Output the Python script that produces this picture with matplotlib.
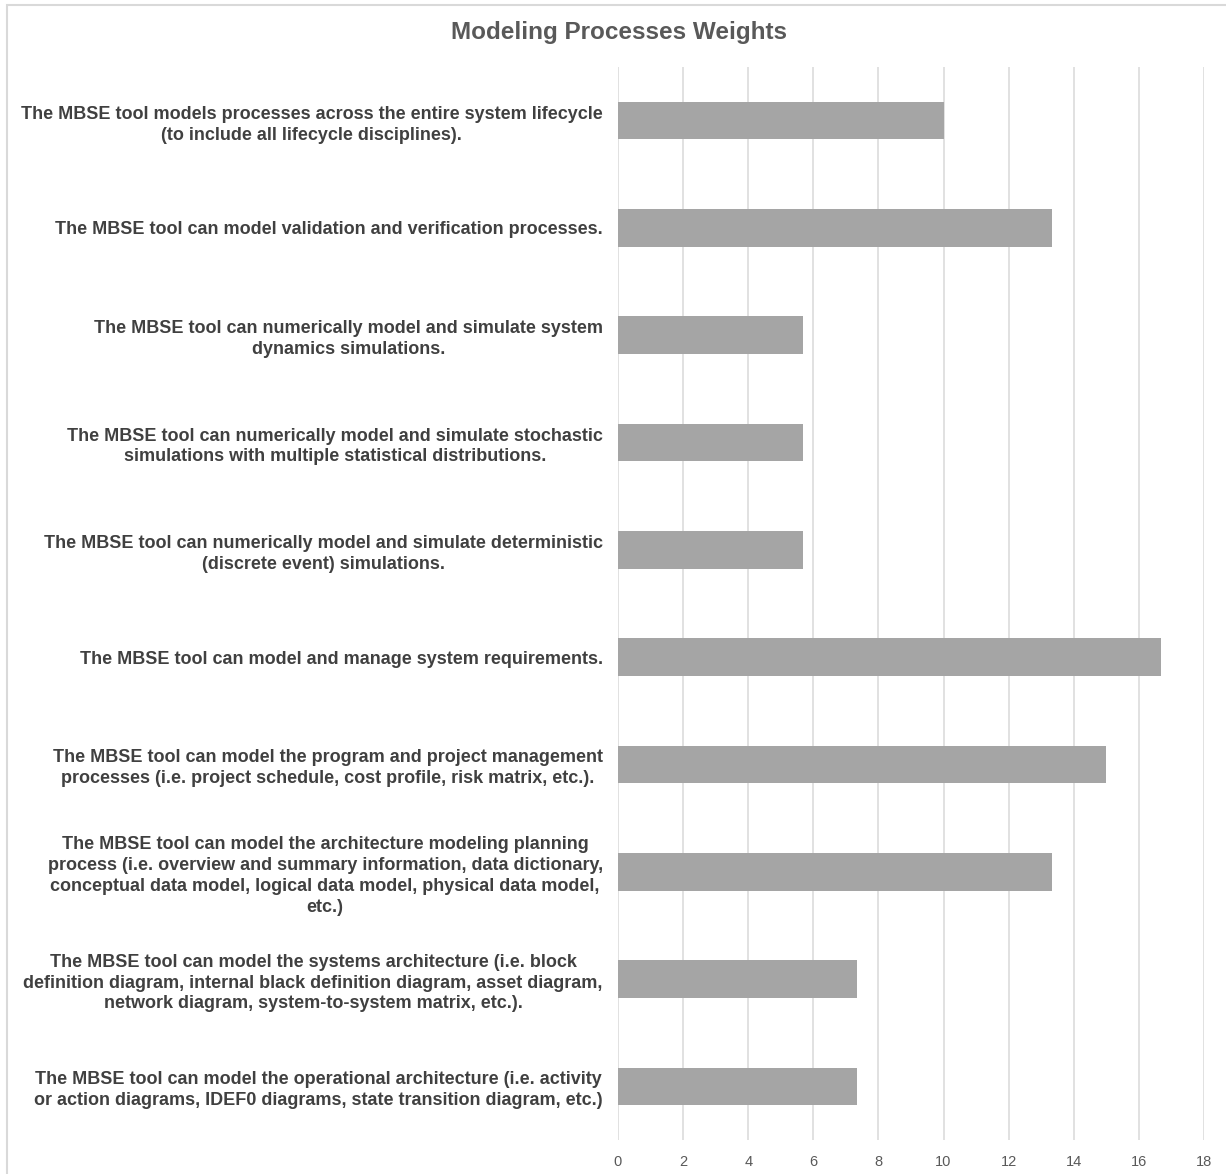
import matplotlib.pyplot as plt
from matplotlib.patches import Rectangle

plt.rcParams['font.family'] = ['Liberation Sans', 'DejaVu Sans']

# Chart data (top to bottom as shown)
labels = [
	'The MBSE tool models processes across the entire system lifecycle\n(to include all lifecycle disciplines).',
	'The MBSE tool can model validation and verification processes.',
	'The MBSE tool can numerically model and simulate system\ndynamics simulations.',
	'The MBSE tool can numerically model and simulate stochastic\nsimulations with multiple statistical distributions.',
	'The MBSE tool can numerically model and simulate deterministic\n(discrete event) simulations.',
	'The MBSE tool can model and manage system requirements.',
	'The MBSE tool can model the program and project management\nprocesses (i.e. project schedule, cost profile, risk matrix, etc.).',
	'The MBSE tool can model the architecture modeling planning\nprocess (i.e. overview and summary information, data dictionary,\nconceptual data model, logical data model, physical data model,\netc.)',
	'The MBSE tool can model the systems architecture (i.e. block\ndefinition diagram, internal black definition diagram, asset diagram,\nnetwork diagram, system-to-system matrix, etc.).',
	'The MBSE tool can model the operational architecture (i.e. activity\nor action diagrams, IDEF0 diagrams, state transition diagram, etc.)',
]
weights = [10, 13.33, 5.67, 5.67, 5.67, 16.67, 15, 13.33, 7.33, 7.33]
x_ticks = [0, 2, 4, 6, 8, 10, 12, 14, 16, 18]

fig = plt.figure(figsize=(12.26, 11.74), dpi=100)
ax = fig.add_axes([618 / 1226, 1 - 1140 / 1174, (1204 - 618) / 1226, (1140 - 67) / 1174])

positions = list(range(len(labels)))
ax.barh(positions, weights, height=0.35, color='#a5a5a5', zorder=3)

ax.set_ylim(len(labels) - 0.5, -0.5)
ax.set_xlim(0, 18)
ax.set_xticks(x_ticks)
ax.set_xticklabels([str(t) for t in x_ticks], color='#595959', fontsize=10.5)
ax.set_yticks(positions)
ax.set_yticklabels(labels, fontsize=13, fontweight='bold', color='#404040',
	multialignment='center', linespacing=1.3)
ax.tick_params(axis='both', length=0)
ax.tick_params(axis='y', pad=11)
ax.tick_params(axis='x', pad=11)

ax.grid(axis='x', color='#dedede', linewidth=1.3, zorder=0)
for s in ax.spines.values():
	s.set_visible(False)

fig.text(619 / 1226, 1 - 33 / 1174, 'Modeling Processes Weights', ha='center', va='center',
	fontsize=17.5, fontweight='bold', color='#595959')

# light chart border
fig.patches.append(Rectangle((7 / 1226, -0.1), 1.2, 1 - 5 / 1174 + 0.1, transform=fig.transFigure,
	fill=False, edgecolor='#d9d9d9', linewidth=1.5))

fig.savefig('out.png', dpi=100)
